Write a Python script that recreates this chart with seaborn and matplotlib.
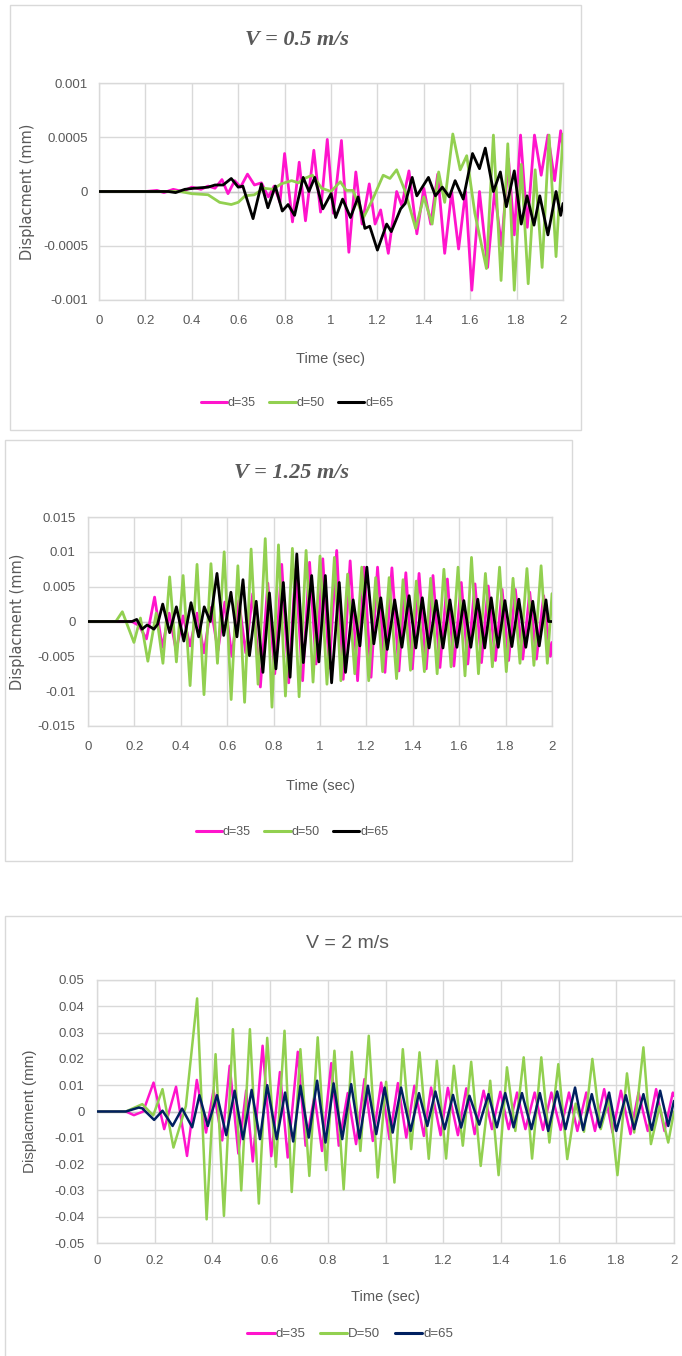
import numpy as np
import pandas as pd
import matplotlib
matplotlib.use("Agg")
import matplotlib.pyplot as plt
from matplotlib import font_manager
from matplotlib.patches import Rectangle
from matplotlib.lines import Line2D
import seaborn as sns

# ---------------- data (peaks / troughs) ----------------
x_ticks = [0, 0.2, 0.4, 0.6, 0.8, 1.0, 1.2, 1.4, 1.6, 1.8, 2.0]
x_tick_labels = ["0", "0.2", "0.4", "0.6", "0.8", "1", "1.2", "1.4", "1.6", "1.8", "2"]

titles = ["V = 0.5 m/s", "V = 1.25 m/s", "V = 2 m/s"]
series_12 = ["d=35", "d=50", "d=65"]
series_3 = ["d=35", "D=50", "d=65"]

p1_y_ticks = [-0.001, -0.0005, 0, 0.0005, 0.001]
p1_y_labels = ["-0.001", "-0.0005", "0", "0.0005", "0.001"]
p2_y_ticks = [-0.015, -0.01, -0.005, 0, 0.005, 0.01, 0.015]
p2_y_labels = ["-0.015", "-0.01", "-0.005", "0", "0.005", "0.01", "0.015"]
p3_y_ticks = [-0.05, -0.04, -0.03, -0.02, -0.01, 0, 0.01, 0.02, 0.03, 0.04, 0.05]
p3_y_labels = ["-0.05", "-0.04", "-0.03", "-0.02", "-0.01", "0", "0.01", "0.02", "0.03", "0.04", "0.05"]

# Panel 1 : V = 0.5 m/s
p1_d35_t = [0, 0.2, 0.25, 0.28, 0.32, 0.36, 0.4, 0.44, 0.47, 0.5, 0.53, 0.556, 0.585, 0.61, 0.64, 0.67,
            0.7, 0.73, 0.755, 0.78, 0.8, 0.834, 0.863, 0.89, 0.926, 0.955, 0.984, 1.01, 1.045, 1.077,
            1.107, 1.134, 1.165, 1.19, 1.214, 1.247, 1.283, 1.305, 1.336, 1.37, 1.40, 1.43, 1.46, 1.49,
            1.52, 1.55, 1.58, 1.607, 1.64, 1.675, 1.705, 1.735, 1.765, 1.79, 1.817, 1.846, 1.877, 1.906,
            1.935, 1.964, 1.99, 2.0]
p1_d35_v = [0, 0, 0.00001, -0.00001, 0.00002, 0.0, 0.00004, 0.00002, 0.00005, 0.00003, 0.00011, -0.00002,
            0.0001, 0.00004, 0.00016, 0.00006, 0.00008, -0.00005, 0.00005, -0.0001, 0.00035, -0.00028,
            0.00027, -0.00027, 0.00038, -0.00019, 0.00048, -0.0002, 0.00047, -0.00056, 0.00018, -0.0003,
            0.00007, -0.0003, -0.00017, -0.00057, 0.0, -0.00013, 0.00019, -0.00039, 0.00003, -0.0003,
            0.00016, -0.00057, 0.0, -0.00053, 0.0, -0.00091, 0.0, -0.0007, 0.0, -0.0005, 0.0003, -0.0004,
            0.00052, -0.00033, 0.00052, 0.00015, 0.00052, 0.0001, 0.00056, 0.0004]
p1_d50_t = [0, 0.35, 0.4, 0.47, 0.52, 0.57, 0.6, 0.63, 0.67, 0.71, 0.75, 0.785, 0.83, 0.86, 0.885, 0.92,
            0.96, 1.0, 1.04, 1.066, 1.095, 1.14, 1.18, 1.225, 1.254, 1.283, 1.32, 1.365, 1.40, 1.436,
            1.464, 1.49, 1.525, 1.557, 1.585, 1.62, 1.67, 1.70, 1.733, 1.762, 1.79, 1.82, 1.85, 1.88,
            1.91, 1.94, 1.97, 2.0]
p1_d50_v = [0, 0, -0.00002, -0.00003, -0.0001, -0.00012, -0.0001, -0.00004, -0.00003, 0.00003, 0.00002,
            0.00007, 0.0001, 0.00008, 0.00012, 0.00015, 0.00003, 0.0, 0.00009, 0.00001, 0.00001, -0.00024,
            -0.00007, 0.00015, 0.00012, 0.0002, 0.0, -0.00034, -0.00005, -0.0003, 0.00018, -0.0001,
            0.00053, 0.0002, 0.00033, -0.0002, -0.00071, 0.00052, -0.00082, 0.00044, -0.00091, 0.00025,
            -0.00085, 0.0002, -0.0007, 0.00052, -0.0006, 0.00053]
p1_d65_t = [0, 0.3, 0.33, 0.37, 0.41, 0.47, 0.5, 0.535, 0.57, 0.6, 0.62, 0.664, 0.70, 0.728, 0.76, 0.79,
            0.815, 0.843, 0.88, 0.905, 0.93, 0.965, 1.0, 1.02, 1.05, 1.084, 1.117, 1.146, 1.167, 1.2,
            1.24, 1.26, 1.30, 1.32, 1.35, 1.37, 1.42, 1.45, 1.48, 1.51, 1.535, 1.57, 1.61, 1.64, 1.665,
            1.70, 1.73, 1.756, 1.79, 1.82, 1.845, 1.875, 1.90, 1.935, 1.97, 1.99, 2.0]
p1_d65_v = [0, 0, -0.00001, 0.00002, 0.00003, 0.00004, 0.00006, 0.00006, 0.00012, 0.00004, 0.00005,
            -0.00025, 0.00007, -0.00015, 0.00005, -0.00018, -0.00012, -0.00022, 0.00013, 0.0, 0.00013,
            -0.00016, -0.00002, -0.00024, -0.00007, -0.00024, -0.00005, -0.00034, -0.00032, -0.00054,
            -0.0003, -0.00037, -0.00016, -0.00011, 0.00013, -0.00004, 0.00013, -0.00004, 0.00004,
            -0.00005, 0.0001, -0.00007, 0.00035, 0.00021, 0.0004, 0.0, 0.00018, -0.00014, 0.00019,
            -0.0003, -0.00004, -0.00031, -0.00004, -0.0004, 0.0, -0.00022, -0.00011]

# Panel 2 : V = 1.25 m/s
p2_d35_t = [0, 0.19, 0.22, 0.252, 0.287, 0.32, 0.35, 0.38, 0.41, 0.44, 0.47, 0.50, 0.53, 0.56, 0.59, 0.62,
            0.65, 0.68, 0.71, 0.743, 0.775, 0.805, 0.835, 0.865, 0.895, 0.925, 0.955, 0.983, 1.012, 1.04,
            1.072, 1.1, 1.13, 1.162, 1.19, 1.22, 1.248, 1.28, 1.31, 1.34, 1.37, 1.398, 1.427, 1.458,
            1.487, 1.517, 1.549, 1.577, 1.609, 1.637, 1.668, 1.696, 1.725, 1.756, 1.785, 1.813, 1.842,
            1.874, 1.904, 1.933, 1.964, 1.993, 2.0]
p2_d35_v = [0, 0, -0.0006, -0.0025, 0.0035, -0.0037, 0.0012, -0.0042, 0.0008, -0.0035, 0.0012, -0.0045,
            0.002, -0.0042, 0.0028, -0.005, 0.003, -0.0045, 0.004, -0.0094, 0.0055, -0.0075, 0.0082,
            -0.0088, 0.0075, -0.0085, 0.0085, -0.0061, 0.009, -0.0067, 0.0102, -0.0083, 0.0087, -0.0085,
            0.0078, -0.008, 0.0078, -0.0073, 0.0077, -0.0071, 0.007, -0.0068, 0.0069, -0.0068, 0.0066,
            -0.0066, 0.0061, -0.0064, 0.0056, -0.0061, 0.0054, -0.0059, 0.0051, -0.0056, 0.0046, -0.0056,
            0.0046, -0.0054, 0.0042, -0.0054, 0.0037, -0.005, -0.003]
p2_d50_t = [0, 0.12, 0.148, 0.198, 0.226, 0.258, 0.294, 0.323, 0.352, 0.381, 0.41, 0.44, 0.47, 0.5, 0.53,
            0.558, 0.587, 0.617, 0.646, 0.675, 0.703, 0.733, 0.764, 0.793, 0.821, 0.851, 0.881, 0.91,
            0.94, 0.97, 1.0, 1.03, 1.062, 1.09, 1.119, 1.15, 1.18, 1.21, 1.24, 1.27, 1.298, 1.33, 1.358,
            1.39, 1.415, 1.45, 1.477, 1.505, 1.534, 1.565, 1.595, 1.625, 1.653, 1.683, 1.713, 1.743,
            1.774, 1.803, 1.832, 1.862, 1.892, 1.922, 1.953, 1.98, 2.0]
p2_d50_v = [0, 0, 0.0014, -0.003, 0.0005, -0.0057, 0.0012, -0.006, 0.0064, -0.0058, 0.0066, -0.0092,
            0.0082, -0.0105, 0.0083, -0.006, 0.01, -0.0112, 0.008, -0.0116, 0.0104, -0.009, 0.0119,
            -0.0123, 0.011, -0.0107, 0.0105, -0.0108, 0.0102, -0.0087, 0.0094, -0.009, 0.0092, -0.0085,
            0.0068, -0.0075, 0.0078, -0.0085, 0.0063, -0.0072, 0.0063, -0.0082, 0.006, -0.007, 0.0058,
            -0.0072, 0.0062, -0.0075, 0.0075, -0.0065, 0.0078, -0.0078, 0.0092, -0.0075, 0.0069, -0.0065,
            0.0078, -0.0072, 0.0062, -0.006, 0.0076, -0.0063, 0.008, -0.006, 0.004]
p2_d65_t = [0, 0.19, 0.21, 0.233, 0.255, 0.27, 0.284, 0.3, 0.322, 0.352, 0.381, 0.413, 0.444, 0.477,
            0.501, 0.527, 0.556, 0.585, 0.616, 0.642, 0.668, 0.696, 0.725, 0.754, 0.782, 0.81, 0.842,
            0.871, 0.9, 0.928, 0.964, 0.995, 1.023, 1.05, 1.083, 1.11, 1.143, 1.172, 1.202, 1.232, 1.262,
            1.29, 1.322, 1.353, 1.384, 1.413, 1.441, 1.47, 1.501, 1.53, 1.56, 1.59, 1.62, 1.65, 1.68,
            1.71, 1.738, 1.768, 1.797, 1.827, 1.857, 1.887, 1.917, 1.945, 1.974, 1.985, 2.0]
p2_d65_v = [0, 0, 0.0003, -0.0011, -0.0005, -0.0008, -0.0011, -0.0004, 0.0025, -0.0016, 0.0021, -0.0028,
            0.0027, -0.0022, 0.0021, 0.0, 0.0069, -0.002, 0.0042, -0.0022, 0.006, -0.0049, 0.0029, -0.0073,
            0.0041, -0.0068, 0.0056, -0.008, 0.0097, -0.0059, 0.0066, -0.0058, 0.0066, -0.0088, 0.0056,
            -0.0073, 0.0031, -0.0035, 0.0078, -0.0032, 0.0034, -0.004, 0.0031, -0.0037, 0.0037, -0.0038,
            0.0034, -0.0038, 0.003, -0.0038, 0.0031, -0.0037, 0.003, -0.0037, 0.0032, -0.0038, 0.0034,
            -0.0037, 0.003, -0.0036, 0.0032, -0.0037, 0.0029, -0.0035, 0.0031, 0.0, 0.0]

# Panel 3 : V = 2 m/s
p3_d35_t = [0, 0.1, 0.128, 0.16, 0.196, 0.233, 0.274, 0.312, 0.346, 0.378, 0.404, 0.434, 0.46, 0.49,
            0.517, 0.54, 0.574, 0.604, 0.634, 0.661, 0.696, 0.723, 0.754, 0.78, 0.812, 0.838, 0.869,
            0.898, 0.927, 0.956, 0.985, 1.014, 1.043, 1.072, 1.1, 1.133, 1.158, 1.191, 1.216, 1.251, 1.28,
            1.309, 1.34, 1.369, 1.398, 1.427, 1.456, 1.485, 1.517, 1.546, 1.575, 1.607, 1.636, 1.665,
            1.696, 1.726, 1.758, 1.787, 1.816, 1.849, 1.877, 1.909, 1.938, 1.967, 1.996, 2.0]
p3_d35_v = [0, 0, -0.0014, 0.0, 0.011, -0.0067, 0.0094, -0.0169, 0.012, -0.008, 0.008, -0.011, 0.0174,
            -0.016, 0.008, -0.019, 0.025, -0.017, 0.015, -0.0175, 0.0227, -0.013, 0.006, -0.015, 0.0184,
            -0.013, 0.007, -0.0124, 0.0123, -0.0112, 0.011, -0.0105, 0.0108, -0.0099, 0.0098, -0.0093,
            0.0091, -0.009, 0.009, -0.009, 0.0088, -0.0086, 0.0079, -0.0067, 0.0075, -0.0067, 0.0072,
            -0.0067, 0.0072, -0.007, 0.0072, -0.007, 0.0072, -0.0074, 0.0072, -0.0074, 0.0085, -0.008,
            0.0079, -0.0086, 0.0072, -0.0074, 0.0085, -0.0074, 0.0072, 0.006]
p3_d50_t = [0, 0.1, 0.157, 0.195, 0.227, 0.265, 0.308, 0.347, 0.38, 0.411, 0.44, 0.471, 0.5, 0.53,
            0.561, 0.59, 0.62, 0.65, 0.675, 0.705, 0.736, 0.765, 0.794, 0.823, 0.855, 0.883, 0.913, 0.942,
            0.973, 1.002, 1.031, 1.06, 1.089, 1.118, 1.15, 1.178, 1.21, 1.237, 1.268, 1.297, 1.33, 1.363,
            1.392, 1.421, 1.45, 1.479, 1.508, 1.54, 1.568, 1.599, 1.63, 1.659, 1.688, 1.717, 1.746, 1.775,
            1.804, 1.837, 1.862, 1.894, 1.92, 1.95, 1.98, 2.0]
p3_d50_v = [0, 0, 0.0028, -0.0015, 0.0085, -0.0137, 0.002, 0.043, -0.041, 0.0218, -0.0397, 0.0313,
            -0.03, 0.0313, -0.035, 0.028, -0.021, 0.0307, -0.0306, 0.0237, -0.0245, 0.0282, -0.0223,
            0.0231, -0.0296, 0.0227, -0.015, 0.0288, -0.0251, 0.0113, -0.027, 0.0237, -0.0143, 0.0225,
            -0.018, 0.0193, -0.0179, 0.0174, -0.013, 0.0189, -0.0207, 0.0117, -0.0242, 0.0168, -0.0074,
            0.0206, -0.0179, 0.0206, -0.0118, 0.018, -0.0181, 0.003, -0.0077, 0.02, -0.0067, 0.005,
            -0.0242, 0.0145, -0.008, 0.0244, -0.0124, 0.002, -0.0118, 0.0]
p3_d65_t = [0, 0.1, 0.145, 0.157, 0.198, 0.227, 0.262, 0.295, 0.33, 0.355, 0.384, 0.416, 0.448, 0.477,
            0.506, 0.536, 0.565, 0.59, 0.623, 0.652, 0.68, 0.705, 0.734, 0.763, 0.792, 0.82, 0.85, 0.881,
            0.91, 0.939, 0.968, 0.997, 1.025, 1.054, 1.087, 1.116, 1.145, 1.173, 1.205, 1.234, 1.262,
            1.291, 1.325, 1.357, 1.386, 1.415, 1.444, 1.473, 1.506, 1.535, 1.564, 1.595, 1.624, 1.657,
            1.685, 1.715, 1.743, 1.775, 1.8, 1.833, 1.862, 1.894, 1.923, 1.952, 1.98, 2.0]
p3_d65_v = [0, 0, 0.0015, 0.0012, -0.0032, 0.0003, -0.0055, 0.0011, -0.006, 0.0062, -0.0055, 0.0062,
            -0.009, 0.0079, -0.0105, 0.0082, -0.0105, 0.01, -0.0105, 0.0072, -0.0114, 0.0098, -0.0099,
            0.0117, -0.0118, 0.0107, -0.0105, 0.0104, -0.0102, 0.0098, -0.0086, 0.0091, -0.008, 0.0091,
            -0.0074, 0.007, -0.0055, 0.0076, -0.0067, 0.0063, -0.0061, 0.006, -0.005, 0.0066, -0.006,
            0.007, -0.006, 0.007, -0.0067, 0.007, -0.0074, 0.0076, -0.0067, 0.0091, -0.007, 0.0066,
            -0.006, 0.0072, -0.0074, 0.0062, -0.0067, 0.0066, -0.007, 0.0079, -0.0055, 0.004]

# ---------------- styling ----------------
W, H = 682, 1356
sns.set_theme(style="white")
installed = {f.name for f in font_manager.fontManager.ttflist}
NARROW = "Liberation Sans Narrow" if "Liberation Sans Narrow" in installed else "Liberation Sans"
plt.rcParams["font.family"] = ["Liberation Sans", "DejaVu Sans"]

GRAY_TXT = "#595959"
GRID = "#d9d9d9"
PINK, GREEN, BLACK, NAVY = "#FF14CC", "#92D050", "#000000", "#002060"

fig = plt.figure(figsize=(W / 100, H / 100), dpi=100)
fig.patch.set_facecolor("white")


def fx(px):
    return px / W


def fy(py):
    return 1 - py / H


# outer chart boxes
for (x0, y0, x1, y1) in [(10, 5, 581, 430), (5, 440, 572, 861), (5, 916, 720, 1400)]:
    fig.add_artist(Rectangle((fx(x0), fy(y1)), fx(x1 - x0), (y1 - y0) / H,
                             transform=fig.transFigure, fill=False, ec=GRID, lw=1.0))


def panel(rect_px, ts, vs, names, colors, lw, yticks, ylabels, ylim,
          tick_font, tick_size, xpad, ypad, ylab_font, ylab_size, ylab_x, xlab_font, xlab_size, xlab_y):
    x0, y0, x1, y1 = rect_px
    ax = fig.add_axes([fx(x0), fy(y1), fx(x1 - x0), (y1 - y0) / H])
    frames = []
    for t, v, n in zip(ts, vs, names):
        frames.append(pd.DataFrame({"t": t, "v": v, "series": n}))
    df = pd.concat(frames, ignore_index=True)
    ax.axhline(0, color="#c6c6c6", lw=1.0, zorder=1)
    sns.lineplot(data=df, x="t", y="v", hue="series", hue_order=names, palette=colors,
                 estimator=None, sort=False, lw=lw, ax=ax, legend=False, zorder=3)
    ax.set_xlim(0, 2)
    ax.set_ylim(*ylim)
    ax.set_xticks(x_ticks)
    ax.set_xticklabels(x_tick_labels, fontfamily=tick_font, fontsize=tick_size, color=GRAY_TXT)
    ax.set_yticks(yticks)
    ax.set_yticklabels(ylabels, fontfamily=tick_font, fontsize=tick_size, color=GRAY_TXT)
    ax.tick_params(axis="x", length=0, pad=xpad)
    ax.tick_params(axis="y", length=0, pad=ypad)
    ax.grid(True, color=GRID, lw=1.0)
    ax.set_axisbelow(True)
    for s in ax.spines.values():
        s.set_color(GRID)
        s.set_linewidth(1.0)
    ax.set_xlabel("Time (sec)", fontfamily=xlab_font, fontsize=xlab_size, color=GRAY_TXT)
    ax.set_ylabel("Displacment (mm)", fontfamily=ylab_font, fontsize=ylab_size, color=GRAY_TXT)
    ax.yaxis.set_label_coords(ylab_x, 0.5)
    ax.xaxis.set_label_coords(0.5, xlab_y)
    return ax


def legend(names, colors, cx, cy, font, size, lw):
    handles = [Line2D([], [], color=c, lw=lw) for c in colors]
    fig.legend(handles, names, loc="center", bbox_to_anchor=(fx(cx), fy(cy)), ncol=3, frameon=False,
               prop={"family": font, "size": size}, labelcolor=GRAY_TXT, handlelength=2.1,
               handletextpad=0.05, columnspacing=1.1)


# Panel 1
panel((99, 83, 563, 300), [p1_d35_t, p1_d50_t, p1_d65_t], [p1_d35_v, p1_d50_v, p1_d65_v],
      series_12, [PINK, GREEN, BLACK], 2.0, p1_y_ticks, p1_y_labels, (-0.001, 0.001),
      NARROW, 9.5, 11, 8, "DejaVu Sans", 10.5, -0.138, NARROW, 10.5, -0.24)
fig.text(fx(297), fy(40), titles[0], ha="center", va="center", fontfamily="Liberation Serif",
         fontweight="bold", fontstyle="italic", fontsize=16, color=GRAY_TXT)
legend(series_12, [PINK, GREEN, BLACK], 297, 403, NARROW, 9, 2.2)

# Panel 2
panel((88, 517, 552, 726), [p2_d35_t, p2_d50_t, p2_d65_t], [p2_d35_v, p2_d50_v, p2_d65_v],
      series_12, [PINK, GREEN, BLACK], 2.0, p2_y_ticks, p2_y_labels, (-0.015, 0.015),
      NARROW, 9.5, 11, 9, "DejaVu Sans", 10.5, -0.136, NARROW, 10.5, -0.254)
fig.text(fx(292), fy(473), titles[1], ha="center", va="center", fontfamily="Liberation Serif",
         fontweight="bold", fontstyle="italic", fontsize=16, color=GRAY_TXT)
legend(series_12, [PINK, GREEN, BLACK], 292, 832, NARROW, 9, 2.2)

# Panel 3
panel((97, 980, 674, 1243), [p3_d35_t, p3_d50_t, p3_d65_t], [p3_d35_v, p3_d50_v, p3_d65_v],
      series_3, [PINK, GREEN, NAVY], 1.8, p3_y_ticks, p3_y_labels, (-0.05, 0.05),
      "Liberation Sans", 9.5, 9, 9, "Liberation Sans", 11, -0.104, "Liberation Sans", 10.5, -0.179)
fig.text(fx(347), fy(943), titles[2], ha="center", va="center", fontfamily="Liberation Sans",
         fontsize=14, color=GRAY_TXT)
legend(series_3, [PINK, GREEN, NAVY], 350, 1334, "Liberation Sans", 9.5, 2.2)

fig.savefig("out.png", dpi=100, facecolor="white")
